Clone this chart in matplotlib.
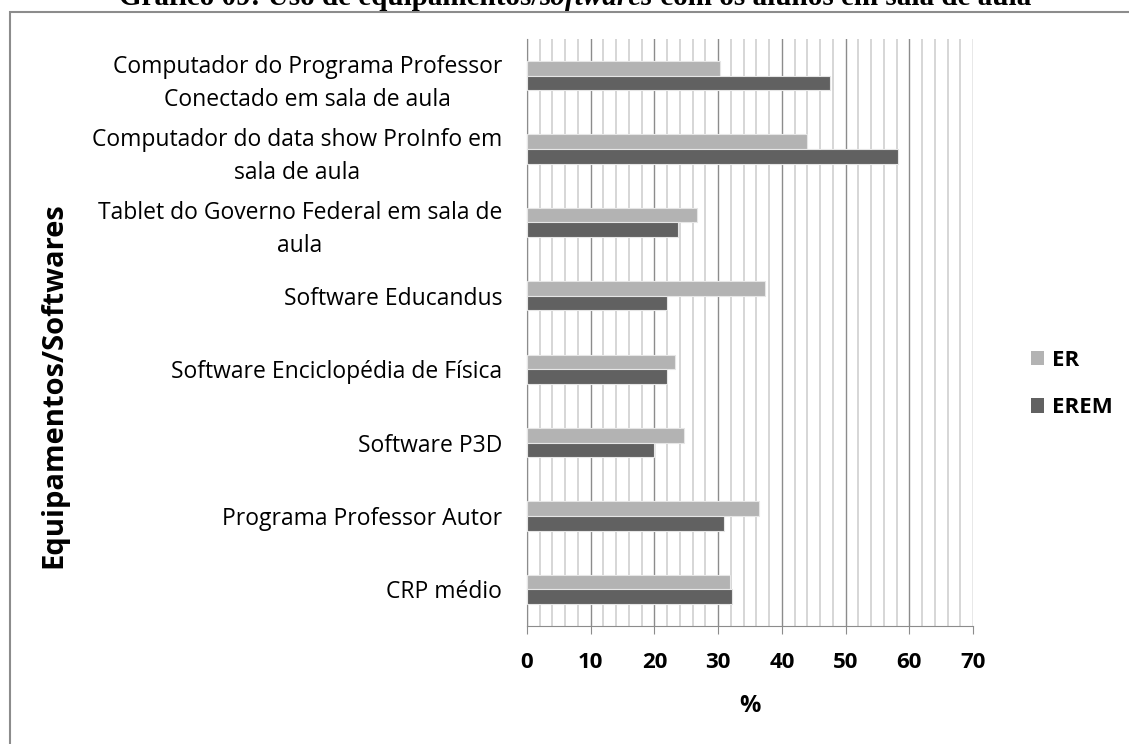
import matplotlib
matplotlib.use('Agg')
import matplotlib.pyplot as plt
from matplotlib.patches import Rectangle, Patch
from matplotlib.ticker import MultipleLocator
import numpy as np

categorias = ['Computador do Programa Professor\nConectado em sala de aula',
              'Computador do data show ProInfo em\nsala de aula',
              'Tablet do Governo Federal em sala de\naula',
              'Software Educandus',
              'Software Enciclopédia de Física',
              'Software P3D',
              'Programa Professor Autor',
              'CRP médio']
er = [30.3, 43.9, 26.7, 37.4, 23.3, 24.7, 36.4, 31.8]
erem = [47.5, 58.3, 23.7, 22.0, 22.0, 20.0, 30.9, 32.1]

cor_er = '#b3b3b3'
cor_erem = '#616161'
fonte = 'Open Sans'

W, H = 1129, 744
fig = plt.figure(figsize=(W / 100, H / 100), dpi=100)
ax = fig.add_axes([527 / W, 1 - 626 / H, 446 / W, 587 / H])

y = np.arange(len(categorias))
ax.barh(y - 0.1, er, height=0.2, color=cor_er, edgecolor='#e6e6e6', linewidth=0.8, zorder=3)
ax.barh(y + 0.1, erem, height=0.2, color=cor_erem, edgecolor='#e6e6e6', linewidth=0.8, zorder=3)

ax.set_xlim(0, 70)
ax.set_ylim(len(categorias) - 0.5, -0.5)
ax.xaxis.set_major_locator(MultipleLocator(10))
ax.xaxis.set_minor_locator(MultipleLocator(2))
ax.grid(axis='x', which='minor', color='#d0d0d0', linewidth=1.2, zorder=0)
ax.grid(axis='x', which='major', color='#8c8c8c', linewidth=1.0, zorder=1)
ax.tick_params(axis='x', which='minor', length=0)
ax.tick_params(axis='x', which='major', length=6, color='#8c8c8c', pad=13,
               labelsize=16)
for lab in ax.get_xticklabels():
    lab.set_fontfamily(fonte)
    lab.set_fontweight('bold')

ax.set_yticks(y)
ax.set_yticklabels(categorias, fontfamily=fonte, fontsize=16.5, linespacing=1.5,
                   ha='right', multialignment='center')
ax.tick_params(axis='y', length=0, pad=18)

for s in ['top', 'right']:
    ax.spines[s].set_visible(False)
for s in ['left', 'bottom']:
    ax.spines[s].set_color('#8c8c8c')

ax.set_xlabel('%', fontfamily=fonte, fontweight='bold', fontsize=17, labelpad=15)
fig.text(54 / W, 1 - 385 / H, 'Equipamentos/Softwares', rotation=90,
         ha='center', va='center', fontfamily=fonte, fontweight='bold', fontsize=21)

alcas = [Patch(facecolor=cor_er), Patch(facecolor=cor_erem)]
leg = fig.legend(alcas, ['ER', 'EREM'], loc='center left',
                 bbox_to_anchor=(1031 / W, 1 - 384 / H), frameon=False,
                 borderpad=0, borderaxespad=0,
                 handlelength=0.6, handleheight=0.6, handletextpad=0.35,
                 labelspacing=1.2, prop={'family': fonte, 'weight': 'bold', 'size': 16})

# moldura do grafico
fig.patches.append(Rectangle((9.5 / W, -0.1), 1.2, 1 - 12 / H + 0.1,
                             transform=fig.transFigure, fill=False,
                             edgecolor='#8c8c8c', linewidth=1.5))

# titulo (cortado no topo)
r = fig.canvas.get_renderer()
partes = [('Gráfico 09: Uso de equipamentos/', 'normal'),
          ('softwares', 'italic'),
          (' com os alunos em sala de aula', 'normal')]
textos = []
x = 0
for txt, estilo in partes:
    t = fig.text(x / W, 1 - 5 / H, txt, fontfamily='Liberation Serif',
                 fontweight='bold', style=estilo, fontsize=21, va='baseline')
    bb = t.get_window_extent(r)
    x = bb.x1
    textos.append(t)
desloc = 575 - x / 2
for t in textos:
    px, py = t.get_position()
    t.set_position((px + desloc / W, py))

fig.savefig('out.png', dpi=100)
